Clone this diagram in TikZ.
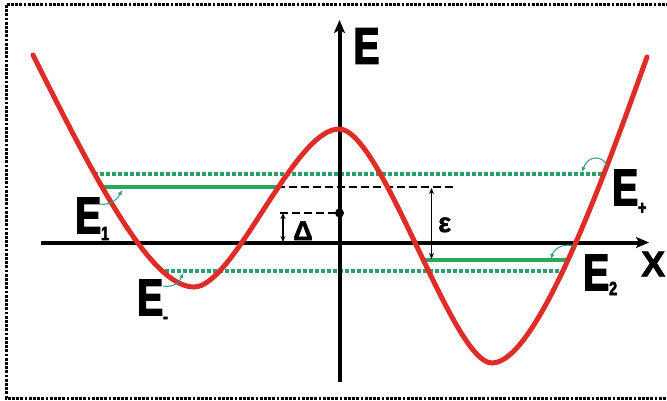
\documentclass[tikz,border=0pt]{standalone}
\usepackage{fontspec}
\setsansfont{Liberation Sans}
\newfontfamily\condfont{Liberation Sans}[FakeStretch=0.76, BoldFeatures={FakeBold=3}]
\newfontfamily\heavyfont{Liberation Sans}[BoldFeatures={FakeBold=2}]
\usetikzlibrary{arrows.meta}

\definecolor{wellred}{RGB}{222,45,40}
\definecolor{levelgreen}{RGB}{40,168,90}
\definecolor{splitgreen}{RGB}{45,158,105}
\definecolor{pointergreen}{RGB}{40,160,120}

\newcommand{\levelsub}[2][-6pt]{\raisebox{#1}{\fontsize{19}{19}\selectfont #2}}

\begin{document}
\begin{tikzpicture}[x=1pt, y=-1pt,
    frame/.style={line width=3pt, dash pattern=on 2.8pt off 1.4pt},
    curve/.style={line width=5pt, draw=wellred, line cap=round},
    axis/.style={line width=4pt, -{Stealth[length=13pt, width=11pt, inset=3pt]}},
    level/.style={line width=3.5pt, draw=levelgreen},
    split/.style={line width=4pt, draw=splitgreen, dash pattern=on 3.6pt off 2.4pt},
    guide/.style={line width=2.4pt, dash pattern=on 8pt off 4pt},
    gap/.style={line width=1.4pt, {Stealth[length=6pt, width=5pt]}-{Stealth[length=6pt, width=5pt]}},
    pointer/.style={line width=1pt, draw=pointergreen, -{Latex[length=5pt, width=4.5pt]}},
    lbl/.style={inner sep=0pt, font=\condfont\bfseries\fontsize{51}{51}\selectfont},
    sym/.style={inner sep=0pt, font=\heavyfont\bfseries\fontsize{27}{27}\selectfont},
]
\useasboundingbox (0,0) rectangle (667,401);
\draw[frame] (6,5) rectangle (690,398);

% levels
\coordinate (up-l) at (94,174);   \coordinate (up-r) at (605,174);
\coordinate (lo-l) at (165,271);  \coordinate (lo-r) at (566,271);
\coordinate (e1-l) at (102,187);  \coordinate (e1-r) at (277,187);
\coordinate (e2-l) at (425,260);  \coordinate (e2-r) at (570,260);
\coordinate (gd-r) at (453,187);
\draw[split] (up-l) -- (up-r);
\draw[split] (lo-l) -- (lo-r);
\draw[level] (e1-l) -- (e1-r);
\draw[level] (e2-l) -- (e2-r);
\draw[guide] (e1-r) -- (gd-r);

% axes
\coordinate (x-start) at (41,242.5);  \coordinate (x-end) at (649,242.5);
\coordinate (e-start) at (339.5,382); \coordinate (e-end) at (339.5,20);
\draw[axis] (x-start) -- (x-end);
\draw[axis] (e-start) -- (e-end);

% splitting marks
\coordinate (dot) at (339.5,213);
\coordinate (dl-l) at (280,213);
\coordinate (dl-top) at (283,213);  \coordinate (dl-bot) at (283,242);
\coordinate (eps-top) at (431.5,188); \coordinate (eps-bot) at (431.5,259);
\draw[guide] (dl-l) -- (dot);
\fill (dot) circle (4.5);
\draw[gap] (dl-top) -- (dl-bot);
\draw[gap] (eps-top) -- (eps-bot);

% potential
\draw[curve] (33,55) .. controls (93,175) and (150,287) .. (194,287)
  .. controls (234,287) and (294,129) .. (339,129)
  .. controls (382,129) and (452,363) .. (492,363)
  .. controls (537,363) and (604,177) .. (647,57);

% labels
\node[lbl] (lab-e) at (366.5,46) {E};
\node[lbl, anchor=base west] (lab-e1) at (75,233) {E\levelsub[-7pt]{1}};
\node[lbl, anchor=base west] (lab-em) at (137,315) {E\levelsub[-8pt]{-}};
\node[lbl, anchor=base west] (lab-ep) at (612,205) {E\levelsub[-9pt]{+}};
\node[lbl, anchor=base west] (lab-e2) at (583,290) {E\levelsub[-5pt]{2}};
\node[sym, anchor=west, font=\heavyfont\bfseries\fontsize{36}{36}\selectfont] (lab-x) at (641,264) {X};
\node[sym, anchor=base west] (lab-delta) at (293,240) {Δ};
\node[sym, anchor=base west] (lab-eps) at (438,232) {ε};

% pointers
\coordinate (p1-s) at (99,204);  \coordinate (p1-e) at (122,190);
\coordinate (pm-s) at (163,286); \coordinate (pm-e) at (183,273);
\coordinate (pp-s) at (607,166); \coordinate (pp-e) at (582,172);
\coordinate (p2-s) at (575,247); \coordinate (p2-e) at (551,259);
\draw[pointer] (p1-s) .. controls (112,206) and (118,198) .. (p1-e);
\draw[pointer] (pm-s) .. controls (175,288) and (180,281) .. (pm-e);
\draw[pointer] (pp-s) .. controls (603,155) and (588,155) .. (pp-e);
\draw[pointer] (p2-s) .. controls (566,242) and (554,248) .. (p2-e);
\end{tikzpicture}
\end{document}
